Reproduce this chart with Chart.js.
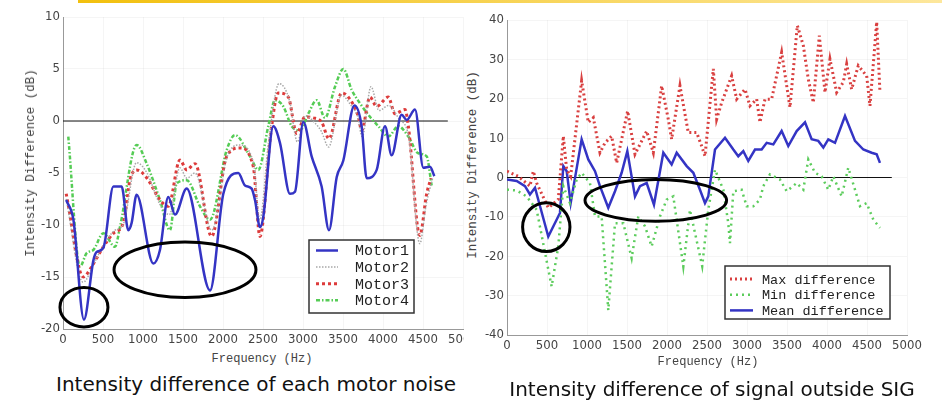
<!DOCTYPE html>
<html lang="en">
<head>
<meta charset="UTF-8">
<title>Intensity difference</title>
<script src="https://cdn.jsdelivr.net/npm/chart.js"></script>
<style>
    body {
        margin: 0;
        width: 942px;
        height: 400px;
        background: #ffffff;
        position: relative;
        overflow: hidden;
        font-family: 'DejaVu Sans', sans-serif;
    }
    #topLine {
        position: absolute;
        left: 78px;
        top: 0;
        width: 864px;
        height: 3px;
        background: linear-gradient(to right, #f2c00e, #fde79c);
    }
    canvas { position: absolute; }
    #leftChart { left: 0; top: 0; }
    #rightChart { left: 480px; top: 0; }
    .axisTitle {
        position: absolute;
        font-family: 'Liberation Mono', 'DejaVu Sans Mono', monospace;
        font-size: 12.5px;
        color: #444;
        white-space: nowrap;
        transform: translate(-50%, -50%);
    }
    .axisTitle.rot { transform: translate(-50%, -50%) rotate(-90deg); }
    .caption {
        position: absolute;
        font-size: 20px;
        color: #111;
        white-space: nowrap;
        transform: translate(-50%, -50%);
    }
</style>
</head>
<body>
<div id="topLine"></div>
<canvas id="leftChart" width="464" height="352"></canvas>
<canvas id="rightChart" width="462" height="358"></canvas>

<div class="axisTitle rot" style="left:31px; top:163px;">Intensity Difference (dB)</div>
<div class="axisTitle" style="left:262px; top:359px; font-size:12px;">Frequency (Hz)</div>
<div class="axisTitle rot" style="left:473px; top:165px;">Intensity Difference (dB)</div>
<div class="axisTitle" style="left:708px; top:362px; font-size:12px;">Frequency (Hz)</div>

<div class="caption" style="left:256px; top:384px;">Intensity difference of each motor noise</div>
<div class="caption" style="left:712px; top:389px;">Intensity difference of signal outside SIG</div>

<script>
// ---- left chart: each motor noise ----
const motor1Hz = [40,130,262,380,420,505,630,733,816,858,920,1129,1212,1316,1400,1546,1838,2004,2191,2275,2358,2400,2462,2504,2629,2712,2837,2900,3004,3108,3233,3325,3421,3504,3642,3733,3796,3921,4025,4108,4233,4296,4400,4504,4587,4642];
const motor1Db = [-7.6,-9.5,-19.1,-13.4,-12.6,-12.2,-6.3,-6.3,-10.5,-9.8,-7.1,-13.7,-12.4,-7.3,-9.0,-6.5,-16.3,-7.0,-5.0,-6.2,-6.5,-7.6,-10.2,-9.2,-0.5,-2.1,-7.0,-6.8,-0.1,-3.4,-6.3,-10.5,-5.4,-3.8,1.5,-0.5,-5.5,-4.7,-0.5,-3.3,0.6,0.1,1.1,-4.5,-4.4,-5.3];

const motor2Hz = [40,250,400,500,650,750,920,1050,1210,1330,1460,1550,1650,1860,2050,2200,2380,2460,2570,2700,2830,2930,3030,3150,3230,3320,3480,3600,3680,3740,3850,3950,4070,4200,4320,4460,4540,4620];
const motor2Db = [-7.5,-15.5,-13.5,-12,-10.5,-10,-4,-5,-8,-9,-4.5,-5.5,-5,-10.5,-3.5,-2.3,-4,-9.5,-2,3.6,2,-2,0.5,-0.2,-1,-2.5,2.5,1.5,0.5,-1.5,3.3,1,1.5,0.2,-1.5,-11.8,-8,-5.5];

const motor3Hz = [40,254,358,504,629,754,840,920,1050,1212,1316,1462,1546,1650,1858,2046,2212,2379,2462,2600,2691,2816,2921,3025,3129,3233,3325,3483,3567,3692,3733,3837,3921,4066,4150,4275,4317,4460,4546,4600];
const motor3Db = [-7.0,-15.0,-14.0,-12.1,-10.8,-9.8,-5.6,-4.7,-5.5,-7.6,-8.2,-3.75,-4.7,-4.1,-11.1,-3.4,-2.6,-4.4,-11.1,-1.0,2.7,2.3,-1.2,0.4,0.3,-0.1,-1.7,2.7,2.3,0.4,-0.9,2.3,1.4,2.3,0.7,1.1,-0.5,-11.0,-7.0,-5.5];

const motor4Hz = [66,212,296,379,504,650,712,921,1046,1212,1337,1421,1546,1712,1837,2046,2150,2337,2442,2566,2650,2754,2858,2962,3066,3171,3275,3400,3504,3608,3712,3837,3942,4066,4191,4317,4441,4546,4608];
const motor4Db = [-1.5,-14,-12.7,-12.4,-10.8,-12.1,-10.2,-2.3,-4.1,-7.6,-10.5,-6.0,-5.7,-8.2,-9.5,-2.8,-1.35,-3.4,-4.7,-0.5,2.0,1.4,-0.5,-0.9,0.7,2.0,0.3,3.3,5.0,3.0,1.7,0.4,-0.5,-1.5,-0.5,-1.5,-3.1,-3.4,-6.2];

// ---- right chart: signal outside SIG ----
const maxHz = [0,141,287,329,371,516,641,704,746,796,933,1016,1079,1162,1225,1308,1371,1508,1600,1746,1829,1933,2016,2058,2162,2266,2371,2433,2475,2579,2621,2683,2808,2871,2975,3037,3121,3162,3225,3308,3433,3537,3629,3704,3766,3829,3904,3975,4037,4121,4204,4246,4308,4391,4496,4537,4621,4662];
const maxDb = [1.6,0.3,-2.2,1.6,-1.4,-7.7,-5.6,10.5,2.0,0.3,24.6,14.0,15.2,6.3,8.8,10.5,3.7,16.9,5.9,11.8,6.3,23.3,14.8,9.7,23.3,11.4,11.4,8.0,5.4,27.6,14.8,19.0,25.8,19.9,22.4,18.2,19.9,14.0,19.9,19.9,31.8,17.8,38.6,33.5,25.0,19.0,36.0,21.6,30.1,21.6,24.2,28.8,22.4,28.4,25.8,18.2,39.5,21.6];

const minHz = [0,121,246,371,558,641,704,787,871,933,1037,1100,1183,1266,1350,1454,1558,1641,1725,1808,1912,1996,2079,2204,2287,2440,2516,2600,2704,2766,2787,2829,2933,2996,3079,3162,3204,3287,3412,3496,3621,3704,3766,3850,3933,4016,4079,4183,4266,4350,4412,4496,4579,4662];
const minDb = [-3.1,-3.3,-4.8,-8.2,-27.7,-17.5,-2.2,-6.5,-0.5,1.2,-1.4,-9.9,-9.9,-33.7,-11.6,-11.6,-20.5,-9.9,-12.4,-17.5,-9.9,-5.6,-4.8,-22.6,-8.2,-22.5,-8.2,2.0,-3.1,-11.6,-16.7,-3.5,-3.1,-7.3,-7.3,-5.6,-2.2,0.8,-0.5,-3.5,-1.4,-3.1,4.6,1.2,0.3,-3.1,0.3,-4.8,2.5,-3.1,-7.3,-6.5,-10.7,-12.8];

const meanHz = [0,121,225,287,350,516,662,704,746,796,933,1016,1100,1162,1266,1350,1433,1504,1600,1662,1746,1837,1954,2058,2121,2246,2329,2412,2475,2516,2600,2725,2829,2891,2954,3016,3100,3183,3246,3329,3433,3516,3621,3725,3808,3891,3954,4016,4100,4225,4350,4454,4558,4621,4662];
const meanDb = [-0.5,-0.9,-2.2,-4.3,-2.6,-15.0,-9.0,2.9,1.6,-6.5,9.7,4.6,1.6,-2.2,-7.7,-3.5,1.2,6.7,-4.8,-2.2,-1.4,-6.9,6.3,3.3,6.3,2.9,1.2,-3.1,-6.5,-4.8,7.1,10.1,7.1,5.4,6.7,4.2,7.1,7.1,8.8,8.4,11.8,8.0,11.8,14.0,9.7,9.3,7.6,9.7,8.8,15.6,9.3,7.1,6.3,5.9,3.7];

// reference line at 0 dB
const zeroHz = [0, 4810];
const zeroDb = [0, 0];

// circled regions (centre Hz, centre dB, half-width Hz, half-height dB)
const leftMarkHz = [262, 1525], leftMarkDb = [-17.9, -14.3], leftMarkW = [300, 887], leftMarkH = [1.9, 2.67];
const rightMarkHz = [491, 1860], rightMarkDb = [-12.6, -5.8], rightMarkW = [296, 885], rightMarkH = [6.2, 5.3];

const pts = (xs, ys) => xs.map((x, i) => ({x: x, y: ys[i]}));
const tickFont = {family: "'DejaVu Sans Condensed', 'Liberation Sans Narrow', sans-serif", size: 13};

function zeroSet() {
    return {data: pts(zeroHz, zeroDb), borderColor: '#111', borderWidth: 1, pointRadius: 0, order: 99, tension: 0};
}

function ellipsePlugin(cx, cy, rx, ry) {
    return {
        id: 'marks',
        afterDatasetsDraw(chart) {
            const {ctx, scales: {x, y}} = chart;
            ctx.save();
            ctx.strokeStyle = '#000';
            ctx.lineWidth = 3;
            cx.forEach((v, i) => {
                const px = x.getPixelForValue(v), py = y.getPixelForValue(cy[i]);
                const w = x.getPixelForValue(v + rx[i]) - px;
                const h = py - y.getPixelForValue(cy[i] + ry[i]);
                ctx.beginPath();
                ctx.ellipse(px, py, w, h, 0, 0, Math.PI * 2);
                ctx.stroke();
            });
            ctx.restore();
        }
    };
}

function boxLegend(b) {
    return {
        id: 'boxLegend',
        afterDraw(chart) {
            const ctx = chart.ctx;
            ctx.save();
            ctx.fillStyle = '#fff';
            ctx.fillRect(b.x, b.y, b.w, b.h);
            ctx.strokeStyle = '#333';
            ctx.lineWidth = 1.5;
            ctx.strokeRect(b.x, b.y, b.w, b.h);
            chart.data.datasets.filter(d => d.label).forEach((d, i) => {
                const yy = b.y + b.first + i * b.rowH;
                ctx.strokeStyle = d.borderColor;
                ctx.lineWidth = d.borderWidth;
                ctx.setLineDash(d.borderDash || []);
                ctx.beginPath();
                ctx.moveTo(b.lineX, yy);
                ctx.lineTo(b.lineX + b.lineW, yy);
                ctx.stroke();
                ctx.setLineDash([]);
                ctx.fillStyle = '#222';
                ctx.font = b.font;
                ctx.textBaseline = 'middle';
                ctx.fillText(d.label, b.textX, yy + 1);
            });
            ctx.restore();
        }
    };
}

function makeOptions(c) {
    return {
        responsive: false,
        animation: false,
        layout: {padding: {left: 0, top: c.top, right: c.right, bottom: 0}},
        plugins: {legend: {display: false}, tooltip: {enabled: false}},
        elements: {point: {radius: 0}},
        scales: {
            x: {
                type: 'linear', min: 0, max: 5000,
                ticks: {stepSize: 500, font: tickFont, color: '#444', padding: 3, maxRotation: 0, autoSkip: false,
                        callback: v => String(v)},
                grid: {color: 'rgba(0,0,0,0.04)', drawTicks: false},
                border: {color: '#999'},
                afterFit(s) { s.height = c.xH; s.paddingLeft = 0; s.paddingRight = 0; }
            },
            y: {
                min: c.yMin, max: c.yMax,
                ticks: {stepSize: c.yStep, font: tickFont, color: '#444', padding: 3, callback: v => String(v)},
                grid: {color: 'rgba(0,0,0,0.04)', drawTicks: false},
                border: {color: '#999'},
                afterFit(s) { s.width = c.yW; s.paddingTop = 0; s.paddingBottom = 0; }
            }
        }
    };
}

new Chart(document.getElementById('leftChart'), {
    type: 'line',
    data: {
        datasets: [
            {label: 'Motor1', data: pts(motor1Hz, motor1Db), borderColor: '#3434c4', borderWidth: 2.5, cubicInterpolationMode: 'monotone'},
            {label: 'Motor2', data: pts(motor2Hz, motor2Db), borderColor: '#a8a8a8', borderWidth: 1.5, borderDash: [1.5, 1.5], cubicInterpolationMode: 'monotone'},
            {label: 'Motor3', data: pts(motor3Hz, motor3Db), borderColor: '#dd3b3b', borderWidth: 3, borderDash: [3, 3], cubicInterpolationMode: 'monotone'},
            {label: 'Motor4', data: pts(motor4Hz, motor4Db), borderColor: '#55cc55', borderWidth: 2.5, borderDash: [4, 2, 1.5, 2], cubicInterpolationMode: 'monotone'},
            zeroSet()
        ]
    },
    options: makeOptions({top: 17, right: 1, xH: 23, yW: 63, yMin: -20, yMax: 10, yStep: 5}),
    plugins: [
        ellipsePlugin(leftMarkHz, leftMarkDb, leftMarkW, leftMarkH),
        boxLegend({x: 309, y: 240, w: 105, h: 73, first: 10.5, rowH: 16.6, lineX: 316, lineW: 22, textX: 355,
                   font: "15px 'Liberation Mono', 'DejaVu Sans Mono', monospace"})
    ]
});

new Chart(document.getElementById('rightChart'), {
    type: 'line',
    data: {
        datasets: [
            {label: 'Max difference', data: pts(maxHz, maxDb), borderColor: '#d94040', borderWidth: 3, borderDash: [2, 3], tension: 0},
            {label: 'Min difference', data: pts(minHz, minDb), borderColor: '#5ccc5c', borderWidth: 2.5, borderDash: [2, 4], tension: 0},
            {label: 'Mean difference', data: pts(meanHz, meanDb), borderColor: '#3434c4', borderWidth: 2.5, tension: 0},
            zeroSet()
        ]
    },
    options: makeOptions({top: 20, right: 35, xH: 23, yW: 27, yMin: -40, yMax: 40, yStep: 10}),
    plugins: [
        ellipsePlugin(rightMarkHz, rightMarkDb, rightMarkW, rightMarkH),
        boxLegend({x: 245, y: 266, w: 165, h: 53, first: 13, rowH: 15.7, lineX: 250, lineW: 23, textX: 282,
                   font: "13.5px 'Liberation Mono', 'DejaVu Sans Mono', monospace"})
    ]
});
</script>
</body>
</html>
